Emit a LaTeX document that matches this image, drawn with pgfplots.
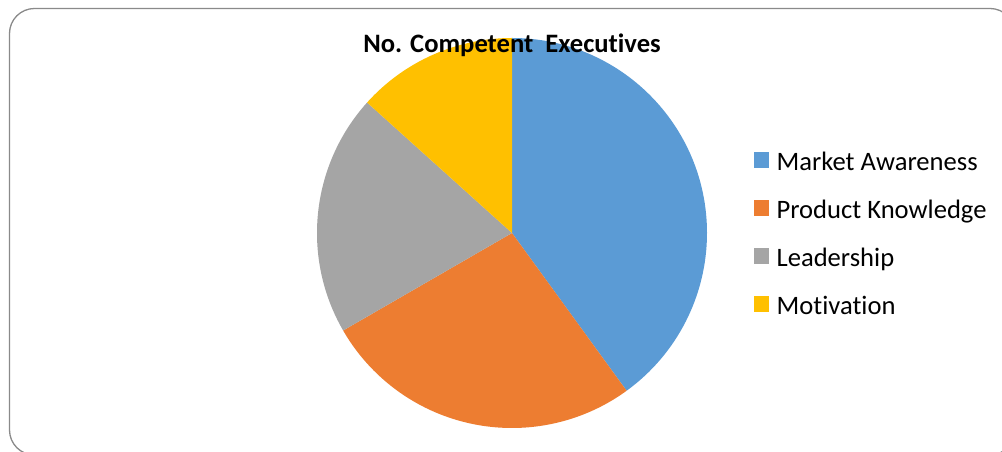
\documentclass[border=0pt]{standalone}
\usepackage{pgfplots}
\usepackage{pgfplotstable}
\pgfplotsset{compat=1.18}
\usepackage{fontspec}
\setmainfont{Carlito}[Ligatures=NoCommon]
\definecolor{cblue}{HTML}{5B9BD5}
\definecolor{corange}{HTML}{ED7D31}
\definecolor{cgray}{HTML}{A5A5A5}
\definecolor{cyellow}{HTML}{FFC000}
\definecolor{cborder}{HTML}{8A8A8A}

\pgfplotstableread[col sep=comma]{
label,value
Market Awareness,6
Product Knowledge,4
Leadership,3
Motivation,2
}\piedata

\begin{document}
\begin{tikzpicture}
\pgfplotstablegetelem{0}{value}\of\piedata \let\va\pgfplotsretval
\pgfplotstablegetelem{1}{value}\of\piedata \let\vb\pgfplotsretval
\pgfplotstablegetelem{2}{value}\of\piedata \let\vc\pgfplotsretval
\pgfplotstablegetelem{3}{value}\of\piedata \let\vd\pgfplotsretval
\pgfmathsetmacro\tot{\va+\vb+\vc+\vd}
\pgfmathsetmacro\aA{90}
\pgfmathsetmacro\aB{\aA-360*\va/\tot}
\pgfmathsetmacro\aC{\aB-360*\vb/\tot}
\pgfmathsetmacro\aD{\aC-360*\vc/\tot}
\pgfmathsetmacro\aE{\aD-360*\vd/\tot}
\clip (0,0) rectangle (1002pt,452pt);
\begin{axis}[
  scale only axis, width=1002pt, height=452pt,
  xmin=0, xmax=1002, ymin=0, ymax=452,
  hide axis, clip=false,
  legend style={draw=none, fill=none, at={(axis cs:754,302)}, anchor=north west,
    font=\fontsize{26.6}{30}\selectfont, inner sep=0pt,
    nodes={inner sep=0pt, text height=20pt, text depth=7pt},
    row sep=21pt, column sep=8pt},
  legend cell align=left,
  legend image code/.code={\fill[#1] (0pt,-4pt) rectangle (14pt,11pt);},
]
\draw[cborder, line width=1.3pt, rounded corners=25pt] (axis cs:9.5,443.5) rectangle (axis cs:1015,-3);
\fill[cblue] (axis cs:512,219) -- ++(\aA:195pt) arc[start angle=\aA, end angle=\aB, radius=195pt] -- cycle;
\fill[corange] (axis cs:512,219) -- ++(\aB:195pt) arc[start angle=\aB, end angle=\aC, radius=195pt] -- cycle;
\fill[cgray] (axis cs:512,219) -- ++(\aC:195pt) arc[start angle=\aC, end angle=\aD, radius=195pt] -- cycle;
\fill[cyellow] (axis cs:512,219) -- ++(\aD:195pt) arc[start angle=\aD, end angle=\aE, radius=195pt] -- cycle;
\node[anchor=base, font=\fontsize{26.6}{30}\selectfont\bfseries, inner sep=0pt] at (axis cs:512,399) {No. Competent\ \ Executives};
\addlegendimage{cblue}
\addlegendentry{Market Awareness}
\addlegendimage{corange}
\addlegendentry{Product Knowledge}
\addlegendimage{cgray}
\addlegendentry{Leadership}
\addlegendimage{cyellow}
\addlegendentry{Motivation}
\end{axis}
\end{tikzpicture}
\end{document}
